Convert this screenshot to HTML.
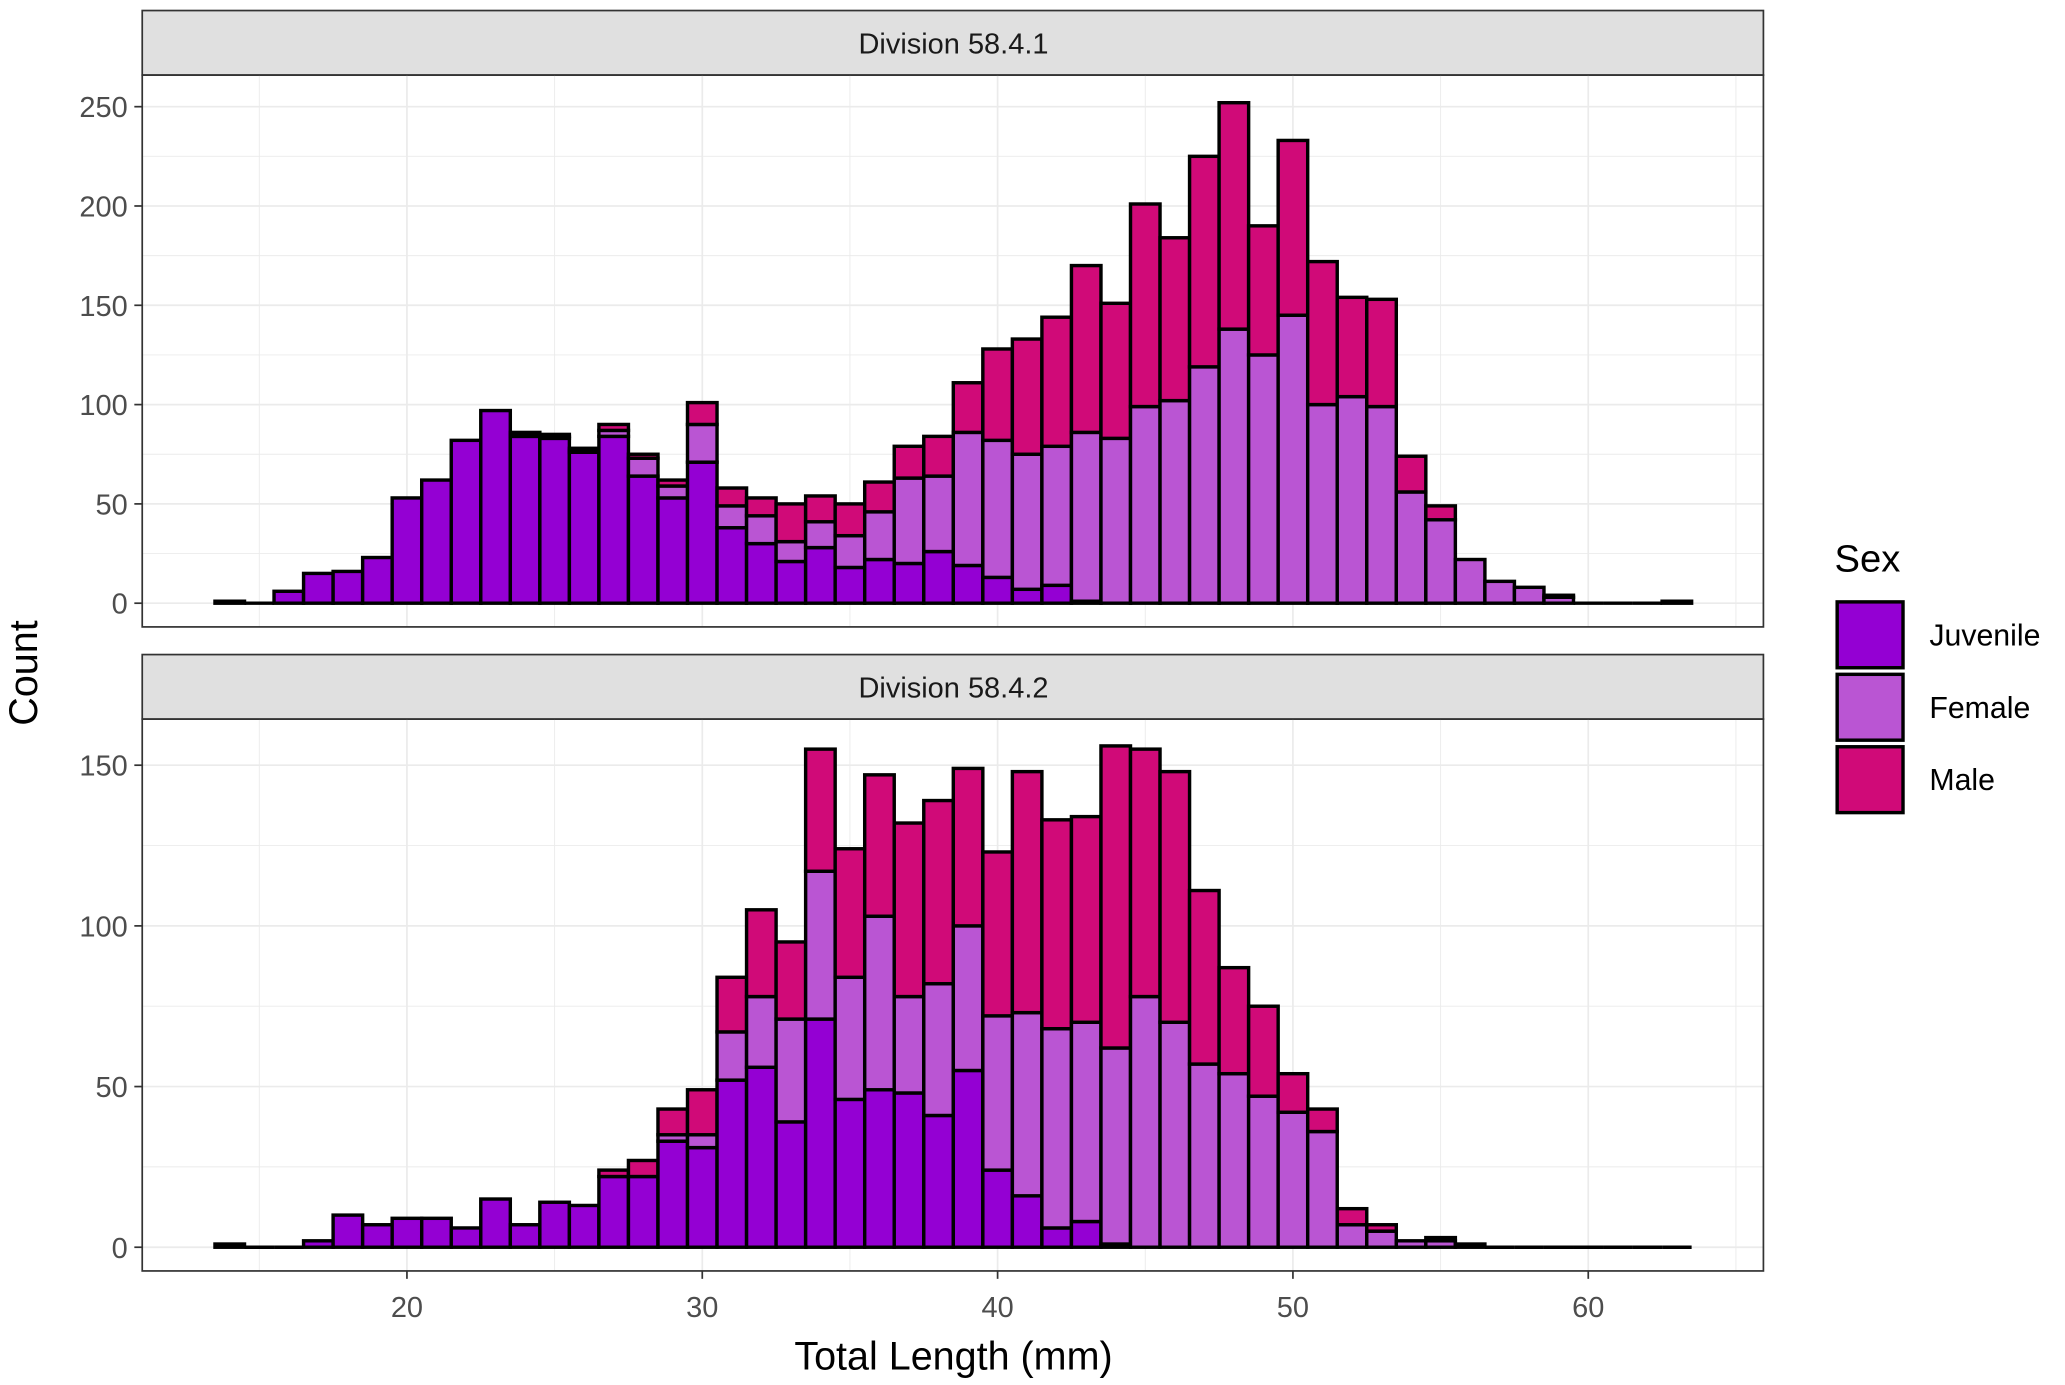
<!DOCTYPE html>
<html><head><meta charset="utf-8"><style>
html,body{margin:0;padding:0;background:#fff;}
svg{display:block;}
text{font-family:"Liberation Sans",sans-serif;}
</style></head><body>
<svg id="s" width="2065" height="1385" viewBox="0 0 1568 1051.6" preserveAspectRatio="none" xmlns="http://www.w3.org/2000/svg"></svg>
<script>
(function(){
const J='#9400D3',F='#BA55D3',M='#D00A78';
const topD=[[14,1,1,1],[15,0,0,0],[16,6,6,6],[17,15,15,15],[18,16,16,16],[19,23,23,23],[20,53,53,53],[21,62,62,62],[22,82,82,82],[23,97,97,97],[24,84,85,86],[25,83,84,85],[26,76,77,78],[27,84,87,90],[28,64,73,75],[29,53,59,62],[30,71,90,101],[31,38,49,58],[32,30,44,53],[33,21,31,50],[34,28,41,54],[35,18,34,50],[36,22,46,61],[37,20,63,79],[38,26,64,84],[39,19,86,111],[40,13,82,128],[41,7,75,133],[42,9,79,144],[43,1,86,170],[44,0,83,151],[45,0,99,201],[46,0,102,184],[47,0,119,225],[48,0,138,252],[49,0,125,190],[50,0,145,233],[51,0,100,172],[52,0,104,154],[53,0,99,153],[54,0,56,74],[55,0,42,49],[56,0,22,22],[57,0,11,11],[58,0,8,8],[59,0,3,4],[60,0,0,0],[61,0,0,0],[62,0,0,0],[63,1,1,1]];
const botD=[[14,1,1,1],[15,0,0,0],[16,0,0,0],[17,2,2,2],[18,10,10,10],[19,7,7,7],[20,9,9,9],[21,9,9,9],[22,6,6,6],[23,15,15,15],[24,7,7,7],[25,14,14,14],[26,13,13,13],[27,22,22,24],[28,22,22,27],[29,33,35,43],[30,31,35,49],[31,52,67,84],[32,56,78,105],[33,39,71,95],[34,71,117,155],[35,46,84,124],[36,49,103,147],[37,48,78,132],[38,41,82,139],[39,55,100,149],[40,24,72,123],[41,16,73,148],[42,6,68,133],[43,8,70,134],[44,1,62,156],[45,0,78,155],[46,0,70,148],[47,0,57,111],[48,0,54,87],[49,0,47,75],[50,0,42,54],[51,0,36,43],[52,0,7,12],[53,0,5,7],[54,0,2,2],[55,0,2,3],[56,0,1,1],[57,0,0,0],[58,0,0,0],[59,0,0,0],[60,0,0,0],[61,0,0,0],[62,0,0,0],[63,0,0,0]];
const X=v=>309+(v-20)*22.425;
let h='';
function panel(y0,y1,sy0,zero,unit,ymax,step,data,title){
  h+=`<rect x="108" y="${sy0}" width="1231" height="${y0-sy0}" fill="#E0E0E0" stroke="#333" stroke-width="1.3"/>`;
  h+=`<text x="724" y="${sy0+(y0-sy0)/2+8}" font-size="22" text-anchor="middle" fill="#1a1a1a">${title}</text>`;
  for(let v=15;v<=65;v+=5){const x=X(v);if(x<108||x>1339)continue;h+=`<line x1="${x}" x2="${x}" y1="${y0}" y2="${y1}" stroke="#EBEBEB" stroke-width="${v%10?0.7:1.3}"/>`;}
  for(let v=0;v<=ymax+step/2;v+=step/2){const y=zero-v*unit;if(y<y0)continue;h+=`<line x1="108" x2="1339" y1="${y}" y2="${y}" stroke="#EBEBEB" stroke-width="${(v%step)?0.7:1.3}"/>`;}
  for(const [c,a,b,t] of data){
    const x=X(c-0.5),w=22.425;
    if(t==0){h+=`<line x1="${x}" x2="${x+w}" y1="${zero}" y2="${zero}" stroke="#000" stroke-width="2.6"/>`;continue;}
    const seg=[[0,a,J],[a,b,F],[b,t,M]];
    for(const [lo,hi,col] of seg){ if(hi>lo){
      const ya=zero-hi*unit,yb=zero-lo*unit;
      h+=`<rect x="${x}" y="${ya}" width="${w}" height="${yb-ya}" fill="${col}" stroke="#000" stroke-width="2.6"/>`;}}
  }
  h+=`<rect x="108" y="${y0}" width="1231" height="${y1-y0}" fill="none" stroke="#333" stroke-width="1.3"/>`;
  for(let v=0;v<=ymax;v+=step){const y=zero-v*unit;h+=`<line x1="102" x2="108" y1="${y}" y2="${y}" stroke="#333" stroke-width="1.3"/><text x="97" y="${y+8}" font-size="22" text-anchor="end" fill="#4d4d4d">${v}</text>`;}
}
panel(57,476,8,458,(458-81)/250,250,50,topD,'Division 58.4.1');
panel(546,965,497,947,366/150,150,50,botD,'Division 58.4.2');
for(let v=20;v<=60;v+=10){const x=X(v);h+=`<line x1="${x}" x2="${x}" y1="965" y2="971" stroke="#333" stroke-width="1.3"/><text x="${x}" y="1000" font-size="22" text-anchor="middle" fill="#4d4d4d">${v}</text>`;}
h+=`<text x="724" y="1040" font-size="30" text-anchor="middle" fill="#000">Total Length (mm)</text>`;
h+=`<text transform="translate(28,511) rotate(-90)" font-size="30" text-anchor="middle" fill="#000">Count</text>`;
h+=`<text x="1393" y="434" font-size="29" fill="#000">Sex</text>`;
[[J,'Juvenile'],[F,'Female'],[M,'Male']].forEach(([c,l],i)=>{const y=457+i*55;h+=`<rect x="1395" y="${y}" width="50" height="50" fill="${c}" stroke="#000" stroke-width="2.6"/><text x="1465" y="${y+33}" font-size="23" fill="#000">${l}</text>`;});
document.getElementById('s').innerHTML=h;
})();
</script>
</body></html>
